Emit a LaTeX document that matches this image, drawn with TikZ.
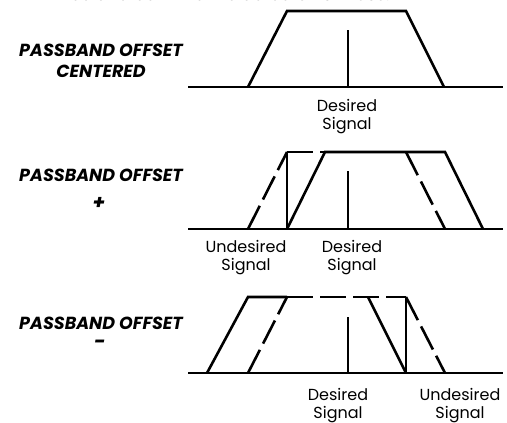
\documentclass[tikz,border=0pt]{standalone}
\usepackage{fontspec}
\setmainfont{Poppins}
\begin{document}
\begin{tikzpicture}[x=1pt, y=-1pt,
        every node/.style={font=\fontsize{16}{18}\selectfont, align=center, inner sep=0pt},
        band/.style={line width=2.6pt},
        offband/.style={band, dash pattern=on 26pt off 7pt},
        carrier/.style={line width=1.8pt},
        spur/.style={line width=1.1pt},
        tag/.style={font=\fontsize{17.5}{21}\selectfont\bfseries\itshape}]
        \useasboundingbox (0,0) rectangle (507,423);
        % Tail of the text line above (cut off)
        \node[anchor=base east, font=\fontsize{17}{20}\selectfont] (prevline) at (390,1) {be altered while the detector is in use.};
        % Passband centered
        \draw[band] (188,87) -- (503,87);
        \draw[band] (248,87) -- (287,11) -- (406,11) -- (444,87);
        \draw[carrier] (348,87) -- (348,30);
        \node (tagcent) at (101,61) [tag] {PASSBAND OFFSET\\CENTERED};
        \node (desA) at (347,117) {Desired\\Signal};
        % Passband offset +
        \draw[band] (188,229) -- (503,229);
        \draw[offband] (248,229) -- (287,152);
        \draw[offband] (287,152) -- (406,152);
        \draw[offband] (406,152) -- (445,229);
        \draw[band] (287,229) -- (325,152) -- (445,152) -- (483,229);
        \draw[spur] (287,229) -- (287,152);
        \draw[carrier] (348,229) -- (348,171);
        \node (tagplus) at (101,175) [tag] {PASSBAND OFFSET};
        \node (plus) at (99,203) [tag, font=\fontsize{20}{21}\selectfont\bfseries\itshape] {+};
        \node (undB) at (246,258) {Undesired\\Signal};
        \node (desB) at (352,258) {Desired\\Signal};
        % Passband offset -
        \draw[band] (188,373) -- (503,373);
        \draw[offband] (248,373) -- (287,297);
        \draw[offband] (287,297) -- (406,297);
        \draw[offband] (406,297) -- (445,373);
        \draw[band] (207,373) -- (248,297) -- (287,297);
        \draw[band] (368,297) -- (406,373);
        \draw[spur, line width=1.5pt] (406,373) -- (406,297);
        \draw[carrier] (348,373) -- (348,317);
        \node (tagminus) at (101,323) [tag] {PASSBAND OFFSET};
        \node (minus) at (100,344) [tag, font=\fontsize{20}{21}\selectfont\bfseries\itshape] {-};
        \node (desC) at (338,406) {Desired\\Signal};
        \node (undC) at (460,406) {Undesired\\Signal};
\end{tikzpicture}
\end{document}
